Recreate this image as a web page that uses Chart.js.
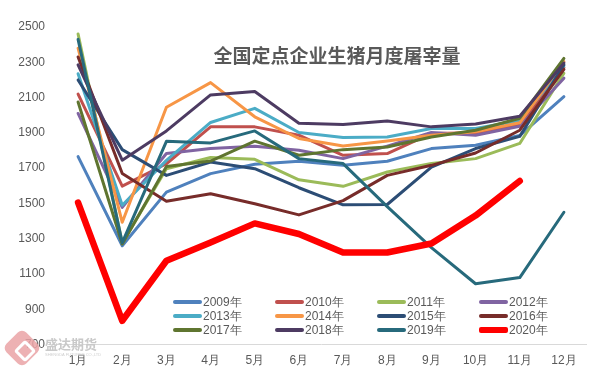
<!DOCTYPE html>
<html>
<head>
<meta charset="utf-8">
<script src="https://cdn.jsdelivr.net/npm/chart.js@4/dist/chart.umd.min.js"></script>
<style>
  html, body { margin: 0; padding: 0; background: #fff; }
  #wrap { position: relative; width: 605px; height: 378px; overflow: hidden; }
  #c { position: absolute; left: 0; top: 0; }
  #title { position: absolute; left: 0; width: 674px; top: 44px; text-align: center;
    font-family: "Noto Sans CJK SC", sans-serif; font-size: 19px; line-height: 22px; font-weight: 700; color: #595959; letter-spacing: 0px; }
  .lg { position: absolute; height: 14px; font-family: "Liberation Sans", Arial, sans-serif; font-size: 12px; color: #595959; white-space: nowrap; }
  .lg .sw { position: absolute; left: 0; width: 29px; border-radius: 2px; }
  .lg .tx { position: absolute; left: 30px; top: 0; line-height: 14px; }
  #logo { position: absolute; left: 8px; top: 334px; width: 28px; height: 28px; background: #eaa3a6; border-radius: 6px; transform: rotate(45deg); opacity: 0.85; }
  #logo2 { position: absolute; left: 17px; top: 343px; width: 10px; height: 10px; border: 3px solid #fff; border-radius: 3px; transform: rotate(45deg); }
  #wm { position: absolute; left: 45px; top: 336px; font-family: "Noto Sans CJK SC", sans-serif; font-size: 13px; font-weight: 700; color: #c9c9c9; line-height: 16px; }
  #wm2 { position: absolute; left: 45px; top: 352px; font-family: "Liberation Sans", sans-serif; font-size: 4px; color: #cfcfcf; }
</style>
</head>
<body>
<div id="wrap">
  <canvas id="c" width="605" height="378"></canvas>
  <div id="title">全国定点企业生猪月度屠宰量</div>
  <div id="logo"></div><div id="logo2"></div>
  <div id="wm">盛达期货</div>
  <div id="wm2">SHENGDA FUTURES CO.,LTD</div>
</div>
<script>
const months = ['1月','2月','3月','4月','5月','6月','7月','8月','9月','10月','11月','12月'];
const seriesNames = ['2009年','2010年','2011年','2012年','2013年','2014年','2015年','2016年','2017年','2018年','2019年','2020年'];
const s2009 = [1765, 1260, 1564, 1669, 1722, 1739, 1716, 1739, 1811, 1830, 1885, 2105];
const s2010 = [2120, 1598, 1725, 1934, 1934, 1887, 1773, 1783, 1897, 1900, 1946, 2270];
const s2011 = [2460, 1275, 1697, 1760, 1750, 1634, 1597, 1678, 1726, 1754, 1840, 2238];
const s2012 = [2010, 1478, 1783, 1811, 1824, 1801, 1754, 1825, 1902, 1887, 1938, 2210];
const s2013 = [2235, 1490, 1744, 1959, 2039, 1902, 1874, 1877, 1925, 1925, 1970, 2280];
const s2014 = [2380, 1393, 2045, 2185, 1991, 1868, 1826, 1854, 1887, 1906, 1957, 2305];
const s2015 = [2200, 1805, 1659, 1735, 1697, 1589, 1492, 1494, 1706, 1811, 1880, 2286];
const s2016 = [2330, 1670, 1513, 1555, 1498, 1435, 1516, 1659, 1716, 1786, 1915, 2260];
const s2017 = [2075, 1270, 1710, 1740, 1853, 1773, 1805, 1820, 1877, 1915, 1983, 2322];
const s2018 = [2285, 1745, 1911, 2115, 2134, 1954, 1948, 1967, 1934, 1950, 1994, 2296];
const s2019 = [2430, 1278, 1852, 1843, 1911, 1754, 1726, 1482, 1250, 1045, 1080, 1450];
const s2020 = [1505, 835, 1175, 1279, 1387, 1327, 1222, 1222, 1273, 1431, 1627, null];
const yTicks = [700, 900, 1100, 1300, 1500, 1700, 1900, 2100, 2300, 2500];

const seriesData = [s2009, s2010, s2011, s2012, s2013, s2014, s2015, s2016, s2017, s2018, s2019, s2020];
const colors = ['#4F81BD','#C0504D','#9BBB59','#8064A2','#4BACC6','#F79646','#2C4D75','#772C2A','#5F7530','#4D3B62','#276A7C','#FF0000'];
const widths = [3,3,3,3,3,3,3,3,3,3,3,6.5];

const datasets = seriesData.map((d, i) => ({
  label: seriesNames[i],
  data: d,
  borderColor: colors[i],
  backgroundColor: colors[i],
  borderWidth: widths[i],
  pointRadius: 0,
  tension: 0,
  fill: false,
  order: seriesData.length - i,
  borderCapStyle: 'round',
  borderJoinStyle: 'round'
}));

new Chart(document.getElementById('c'), {
  type: 'line',
  data: { labels: months, datasets },
  options: {
    responsive: false,
    animation: false,
    devicePixelRatio: 1,
    layout: { padding: { top: 27, right: 19, bottom: 1, left: 0 } },
    plugins: { legend: { display: false }, title: { display: false }, tooltip: { enabled: false } },
    scales: {
      x: {
        offset: true,
        grid: { display: false, drawTicks: false },
        border: { display: true, color: '#d9d9d9', width: 1 },
        ticks: { color: '#595959', padding: 9, font: { family: 'Liberation Sans', size: 12 }, maxRotation: 0, autoSkip: false }
      },
      y: {
        min: yTicks[0], max: yTicks[yTicks.length - 1],
        afterBuildTicks(s) { s.ticks = yTicks.map(v => ({ value: v })); },
        afterFit(s) { s.width = 56; },
        grid: { display: false, drawTicks: false },
        border: { display: false },
        ticks: { color: '#595959', padding: 11, font: { family: 'Liberation Sans', size: 12 }, callback: v => String(v) }
      }
    }
  }
});

// HTML legend built from the datasets
const wrap = document.getElementById('wrap');
datasets.forEach((ds, i) => {
  const col = i % 4, row = Math.floor(i / 4);
  const el = document.createElement('div');
  el.className = 'lg';
  el.style.left = (173 + col * 102) + 'px';
  el.style.top = (295 + row * 14) + 'px';
  const sw = document.createElement('div');
  sw.className = 'sw';
  const h = i === 11 ? 6 : 4;
  sw.style.height = h + 'px';
  sw.style.top = (7 - h / 2) + 'px';
  sw.style.background = ds.borderColor;
  const tx = document.createElement('div');
  tx.className = 'tx';
  tx.textContent = ds.label;
  el.appendChild(sw); el.appendChild(tx);
  wrap.appendChild(el);
});
</script>
</body>
</html>
